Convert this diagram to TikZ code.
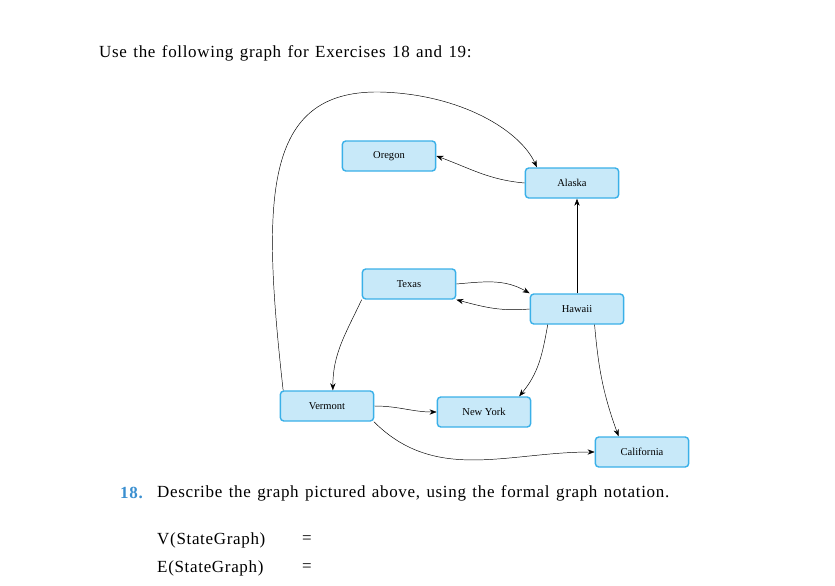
\documentclass[tikz,border=0pt]{standalone}
\usepackage{fontspec}
\setmainfont{Liberation Serif}
\newfontfamily\spacedfont[LetterSpace=4,WordSpace=1.3]{Liberation Serif}
\usepackage{xcolor}
\usetikzlibrary{arrows.meta}
\definecolor{boxfill}{HTML}{C8E9F9}
\definecolor{boxline}{HTML}{3AB0E8}
\definecolor{numblue}{HTML}{3A8FD0}
\begin{document}
\begin{tikzpicture}[x=0.03cm,y=-0.03cm,
                state/.style={rectangle,rounded corners=3pt,draw=boxline,line width=1.2pt,fill=boxfill,
                              minimum width=2.8cm,minimum height=0.9cm,font=\fontsize{9}{10}\selectfont},
                edge/.style={-{Stealth[length=6pt,width=4.5pt]},thin},
                txt/.style={anchor=west,inner sep=0pt,font=\spacedfont\fontsize{14.5}{16}\selectfont}
            ]
                \useasboundingbox (0,0) rectangle (835,586);
                \node[state] (oregon) at (389,156) {Oregon};
                \node[state] (alaska) at (572,183) {Alaska};
                \node[state] (texas) at (409,284) {Texas};
                \node[state] (hawaii) at (577,309) {Hawaii};
                \node[state] (vermont) at (327,406) {Vermont};
                \node[state] (newyork) at (484,412) {New York};
                \node[state] (california) at (642,452) {California};

                \draw[edge] (alaska.west) to[out=175,in=-20] (oregon.east);
                \draw[edge] (hawaii.north) -- (hawaii.north |- alaska.south);
                \draw[edge] (texas.east) to[out=5,in=150] (hawaii.north west);
                \draw[edge] (hawaii.west) to[out=185,in=-15] (texas.south east);
                \draw[edge] (texas.south west) to[out=-115,in=90] ([xshift=5]vermont.north);
                \draw[edge] ([xshift=-25]hawaii.south) to[out=-100,in=50] ([xshift=30]newyork.north);
                \draw[edge] ([xshift=15]hawaii.south) to[out=-85,in=110] ([xshift=-20]california.north);
                \draw[edge] (vermont.east) to[out=0,in=180] (newyork.west);
                \draw[edge] ([xshift=40]vermont.south) to[out=-45,in=180] (california.west);
                \draw[edge] ([xshift=3]vermont.north west) .. controls (262,200) and (262,90) .. (380,92)
                    .. controls (460,94) and (520,130) .. ([xshift=-30]alaska.north);

                \node[txt] (head) at (99,53) {Use the following graph for Exercises 18 and 19:};
                \node[txt,text=numblue,font=\spacedfont\fontsize{14.5}{16}\bfseries] (num) at (120,493) {18.};
                \node[txt] (q) at (157,493) {Describe the graph pictured above, using the formal graph notation.};
                \node[txt] (v) at (157,540) {V(StateGraph)};
                \node[txt] (veq) at (302,540) {=};
                \node[txt] (e) at (157,568) {E(StateGraph)};
                \node[txt] (eeq) at (302,568) {=};
            \end{tikzpicture}
\end{document}
